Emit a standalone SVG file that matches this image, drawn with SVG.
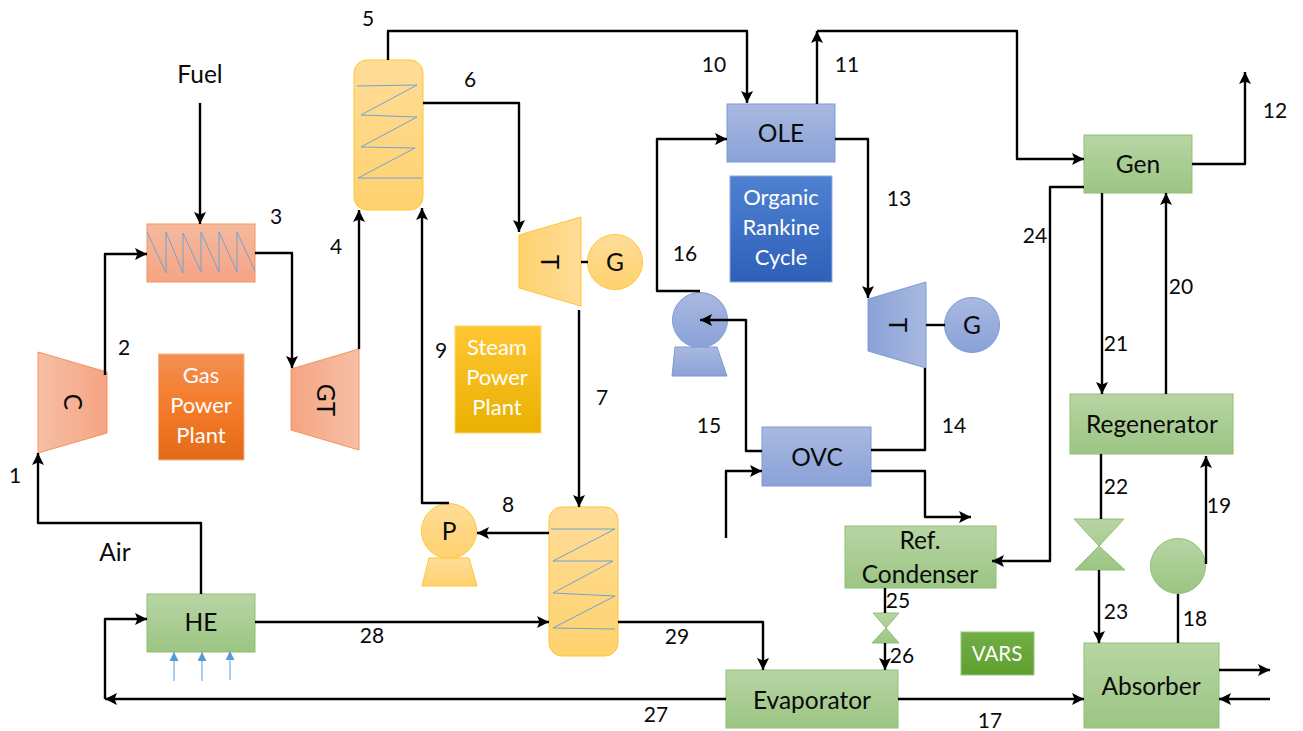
<svg xmlns="http://www.w3.org/2000/svg" width="1303" height="731" viewBox="0 0 1303 731">
<style>
text{font-family:Lato,"Noto Sans","Liberation Sans",sans-serif;font-size:24.500px;fill:#0a0a0a;text-anchor:middle}
.w{fill:#fff;font-size:22px}
.s{font-size:21px}
.c{fill:none;stroke:#000;stroke-width:2.400;stroke-linejoin:round}
.a{marker-end:url(#ah)}
.z{fill:none;stroke:#6fa3d6;stroke-width:1}
.bl{fill:url(#gB);stroke:#7b9bd6;stroke-width:1}
.gr{fill:url(#gG);stroke:#8fc072;stroke-width:1}
.ye{fill:url(#gY);stroke:#ffc533;stroke-width:1}
.or{fill:url(#gO);stroke:#f4935c;stroke-width:1}
.h{fill:none;stroke:#7db4e6;stroke-width:1.300;marker-end:url(#ab)}
</style>
<defs>
<marker id="ah" markerUnits="userSpaceOnUse" markerWidth="13" markerHeight="12" refX="12" refY="6" orient="auto"><path d="M0,0L12,6L0,12L2.500,6Z" fill="#000"/></marker>
<marker id="ab" markerUnits="userSpaceOnUse" markerWidth="10" markerHeight="10" refX="9" refY="4.500" orient="auto"><path d="M0,0L9,4.500L0,9Z" fill="#5b9bd5"/></marker>
<linearGradient id="gO" x1="0" y1="0" x2="0" y2="1"><stop offset="0" stop-color="#f5b99f"/><stop offset="1" stop-color="#f5a482"/></linearGradient>
<linearGradient id="gOr" x1="0" y1="0" x2="1" y2="0"><stop offset="0" stop-color="#f6bfa6"/><stop offset="1" stop-color="#f5a482"/></linearGradient>
<linearGradient id="gOl" x1="1" y1="0" x2="0" y2="0"><stop offset="0" stop-color="#f6bfa6"/><stop offset="1" stop-color="#f5a482"/></linearGradient>
<linearGradient id="gY" x1="0" y1="0" x2="0" y2="1"><stop offset="0" stop-color="#ffdc98"/><stop offset="1" stop-color="#ffd26e"/></linearGradient>
<linearGradient id="gYh" x1="1" y1="0" x2="0" y2="0"><stop offset="0" stop-color="#ffdc98"/><stop offset="1" stop-color="#ffd26e"/></linearGradient>
<linearGradient id="gB" x1="0" y1="0" x2="0" y2="1"><stop offset="0" stop-color="#a9b9e0"/><stop offset="1" stop-color="#8aa2d8"/></linearGradient>
<linearGradient id="gBh" x1="1" y1="0" x2="0" y2="0"><stop offset="0" stop-color="#a9b9e0"/><stop offset="1" stop-color="#8aa2d8"/></linearGradient>
<linearGradient id="gG" x1="0" y1="0" x2="0" y2="1"><stop offset="0" stop-color="#b7d5a4"/><stop offset="1" stop-color="#9cc583"/></linearGradient>
<linearGradient id="dO" x1="0" y1="0" x2="0" y2="1"><stop offset="0" stop-color="#f28f52"/><stop offset="0.500" stop-color="#f47b2a"/><stop offset="1" stop-color="#e36a16"/></linearGradient>
<linearGradient id="dY" x1="0" y1="0" x2="0" y2="1"><stop offset="0" stop-color="#ffc634"/><stop offset="1" stop-color="#e9b000"/></linearGradient>
<linearGradient id="dB" x1="0" y1="0" x2="0" y2="1"><stop offset="0" stop-color="#4f81d2"/><stop offset="1" stop-color="#2d60b8"/></linearGradient>
<linearGradient id="dG" x1="0" y1="0" x2="0" y2="1"><stop offset="0" stop-color="#72ad47"/><stop offset="1" stop-color="#5fa02e"/></linearGradient>
</defs>

<g id="compressor"><polygon points="38,352 107,372 107,433 38,453" fill="url(#gOr)" stroke="#f4935c"/><text transform="translate(72,402) rotate(90)" y="8">C</text></g>
<g id="combustor"><rect class="or" x="147" y="224" width="108" height="58"/><polyline class="z" points="147,232 166,273 166,232 183,273 183,233 201,272 201,232 219,272 219,232 237,272 237,232 255,271"/></g>
<g id="gas-turbine"><polygon points="291,369 359,349 359,450 291,430" fill="url(#gOl)" stroke="#f4935c"/><text transform="translate(325,400) rotate(90)" y="8">GT</text></g>
<g id="gas-label"><rect x="158.500" y="354" width="85.500" height="106" fill="url(#dO)" stroke="#f8b48c"/><text class="w" x="201" y="383">Gas</text><text class="w" x="201" y="413">Power</text><text class="w" x="201" y="443">Plant</text></g>
<g id="hrsg"><rect class="ye" x="354" y="60" width="69" height="150" rx="13"/><polyline class="z" points="357,86 417,85 361,115 417,117 361,147 415,148 358,178 422,178"/></g>
<g id="steam-turbine"><polygon points="519,235 581,217 581,306 519,288" fill="url(#gYh)" stroke="#ffc533"/><text transform="translate(549,262) rotate(90)" y="8">T</text></g>
<g id="steam-generator"><circle class="ye" cx="615" cy="262" r="27.500"/><text x="615" y="271">G</text></g>
<g id="steam-condenser"><rect class="ye" x="549" y="507" width="69" height="149" rx="13"/><polyline class="z" points="551,529 615,529 553,561 613,561 553,593 615,596 553,628 615,629"/></g>
<g id="steam-pump"><circle class="ye" cx="449" cy="531" r="27.500"/><polygon class="ye" points="429,558 469,558 477,586 422,586"/><text x="449" y="540">P</text></g>
<g id="steam-label"><rect x="455" y="326" width="86" height="107" fill="url(#dY)" stroke="#ffd76e"/><text class="w" x="497" y="355">Steam</text><text class="w" x="497" y="385">Power</text><text class="w" x="497" y="415">Plant</text></g>
<g id="ole"><rect class="bl" x="727" y="104" width="108" height="58"/><text x="781" y="142">OLE</text></g>
<g id="orc-label"><rect x="730" y="176" width="102" height="106" fill="url(#dB)" stroke="#8faadc"/><text class="w" x="781" y="205">Organic</text><text class="w" x="781" y="235">Rankine</text><text class="w" x="781" y="265">Cycle</text></g>
<g id="orc-pump"><circle class="bl" cx="700" cy="320" r="27.500"/><polygon class="bl" points="675,347 717,347 727,376 672,376"/></g>
<g id="orc-turbine"><polygon points="868,299 926,282 926,368 868,351" fill="url(#gBh)" stroke="#7b9bd6"/><text transform="translate(897,325) rotate(90)" y="8">T</text></g>
<g id="orc-generator"><circle class="bl" cx="972" cy="325" r="27.500"/><text x="972" y="334">G</text></g>
<g id="ovc"><rect class="bl" x="762" y="427" width="109" height="59"/><text x="817" y="466">OVC</text></g>
<g id="gen"><rect class="gr" x="1084" y="135" width="108" height="58"/><text x="1138" y="173">Gen</text></g>
<g id="regenerator"><rect class="gr" x="1070" y="394" width="163" height="60"/><text x="1152" y="433">Regenerator</text></g>
<g id="ref-condenser"><rect class="gr" x="845" y="526" width="151" height="62"/><text x="920" y="549">Ref.</text><text x="920" y="583">Condenser</text></g>
<g id="valve-large"><polygon class="gr" points="1074,519 1124,519 1099,546 1125,570 1075,570 1099,546"/></g>
<g id="solution-pump"><circle class="gr" cx="1178" cy="566" r="27.500"/></g>
<g id="valve-small"><polygon class="gr" points="873,613 899,613 886,628 899,643 872,643 886,628"/></g>
<g id="vars-label"><rect x="961" y="632" width="73" height="43" fill="url(#dG)" stroke="#9cc583"/><text class="w" style="font-size:20.500px" x="997" y="661">VARS</text></g>
<g id="evaporator"><rect class="gr" x="726" y="670" width="172" height="58"/><text x="812" y="709">Evaporator</text></g>
<g id="absorber"><rect class="gr" x="1084" y="643" width="135" height="85"/><text x="1151" y="695">Absorber</text></g>
<g id="he"><rect class="gr" x="147" y="594" width="108" height="58"/><text x="201" y="631">HE</text></g>

<g id="connectors">
<polyline class="c a" points="201,594 201,523 38,523 38,453"/>
<polyline class="c a" points="105,375 105,254 147,254"/>
<polyline class="c a" points="200,103 200,224"/>
<polyline class="c a" points="255,253 292,253 292,368"/>
<polyline class="c a" points="359,349 359,210"/>
<polyline class="c a" points="388,60 388,31 747,31 747,103"/>
<polyline class="c a" points="423,103 519,103 519,232"/>
<polyline class="c" points="581,262 588,262"/>
<polyline class="c a" points="579,310 579,507"/>
<polyline class="c a" points="549,533 477,533"/>
<polyline class="c a" points="449,503 422,503 422,208"/>
<polyline class="c a" points="700,291 657,291 657,139 727,139"/>
<polyline class="c a" points="817,104 817,31"/>
<polyline class="c a" points="817,31 1017,31 1017,159 1084,159"/>
<polyline class="c a" points="835,139 868,139 868,298"/>
<polyline class="c" points="926,325 945,325"/>
<polyline class="c" points="871,450 925,450 925,368"/>
<polyline class="c a" points="762,451 746,451 746,320 700,320"/>
<polyline class="c a" points="871,471 925,471 925,517 971,517"/>
<polyline class="c a" points="726,538 726,471 762,471"/>
<polyline class="c a" points="1192,164 1245,164 1245,72"/>
<polyline class="c a" points="1084,187 1050,187 1050,561 992,561"/>
<polyline class="c a" points="1102,193 1102,394"/>
<polyline class="c a" points="1166,394 1166,193"/>
<polyline class="c" points="1101,454 1101,519"/>
<polyline class="c a" points="1099,570 1099,643"/>
<polyline class="c a" points="1206,564 1206,456"/>
<polyline class="c" points="1178,594 1178,643"/>
<polyline class="c" points="885,588 885,613"/>
<polyline class="c a" points="885,643 885,670"/>
<polyline class="c a" points="618,622 763,622 763,670"/>
<polyline class="c a" points="255,622 549,622"/>
<polyline class="c a" points="726,699 105,699"/>
<polyline class="c a" points="105,699 105,619 147,619"/>
<polyline class="c a" points="898,699 1084,699"/>
<polyline class="c a" points="1219,670 1270,670"/>
<polyline class="c a" points="1270,699 1219,699"/>
<path class="h" d="M174,681V652"/><path class="h" d="M202,681V652"/><path class="h" d="M230,680V651"/>
</g>

<g id="labels">
<text x="200" y="83">Fuel</text><text x="115" y="561">Air</text>
<text class="s" x="15" y="483">1</text><text class="s" x="124" y="355">2</text><text class="s" x="276" y="224">3</text><text class="s" x="336" y="254">4</text><text class="s" x="368" y="26">5</text><text class="s" x="470" y="87">6</text><text class="s" x="602" y="405">7</text><text class="s" x="508" y="512">8</text><text class="s" x="441" y="358">9</text><text class="s" x="714" y="72">10</text><text class="s" x="847" y="72">11</text><text class="s" x="1275" y="118">12</text><text class="s" x="899" y="206">13</text><text class="s" x="954" y="433">14</text><text class="s" x="709" y="433">15</text><text class="s" x="685" y="261">16</text><text class="s" x="990" y="728">17</text><text class="s" x="1195" y="626">18</text><text class="s" x="1219" y="513">19</text><text class="s" x="1181" y="294">20</text><text class="s" x="1116" y="351">21</text><text class="s" x="1116" y="494">22</text><text class="s" x="1116" y="619">23</text><text class="s" x="1035" y="243">24</text><text class="s" x="898" y="608">25</text><text class="s" x="902" y="663">26</text><text class="s" x="656" y="722">27</text><text class="s" x="372" y="643">28</text><text class="s" x="677" y="644">29</text>
</g>
</svg>
